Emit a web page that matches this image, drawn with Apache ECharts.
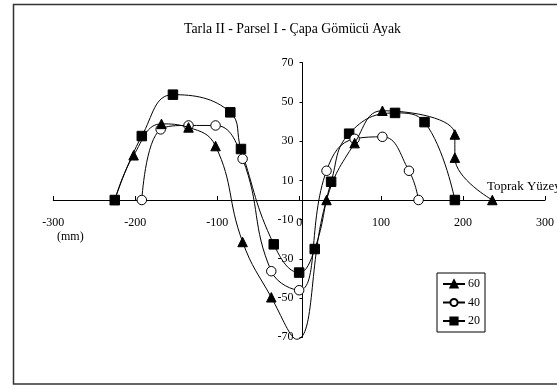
<!DOCTYPE html>
<html>
<head>
<meta charset="utf-8">
<script src="https://cdn.jsdelivr.net/npm/echarts@6/dist/echarts.min.js"></script>
<style>html,body{margin:0;padding:0;background:#fff}#c{width:557px;height:388px}</style>
</head>
<body>
<div id="c"></div>
<script>
const titleText = 'Tarla II - Parsel I - Çapa Gömücü Ayak';
const seriesNames = ['60', '40', '20'];
const xTicks = [-300, -200, -100, 0, 100, 200, 300];
const yTicks = [-70, -50, -30, -10, 10, 30, 50, 70];
const s60 = [[-225, 0], [-202, 22.8], [-168, 38.8], [-135, 37], [-102, 27.5], [-69, -21.4], [-34, -49.6], [-3, -71, 'hidden'], [33.4, 0], [67.7, 29], [101.6, 45.5], [190, 33.4], [190, 21.6], [235.7, 0]];
const s40 = [[-192, 0], [-169, 36], [-135, 38], [-102, 38], [-69, 21], [-34, -36.3], [0, -46], [33.4, 14.9], [67.7, 31.2], [101.6, 32.2], [134, 14.9], [145.7, 0]];
const s20 = [[-225, 0], [-192, 32.6], [-154, 53.7], [-84, 44.7], [-71, 26], [-31, -22.6], [0, -37], [19, -25], [39, 9.3], [61, 33.8], [117, 44.4], [153, 39.7], [190, 0]];
const annotations = ['Toprak Yüzeyi', '(mm)'];

const FONT = 'Liberation Serif';
function toData(arr) {
  return arr.map(p => p[2] === 'hidden' ? { value: [p[0], p[1]], symbol: 'none' } : [p[0], p[1]]);
}
const G = { left: 53.3, right: 5.3, top: 62.7, bottom: 50.7 };
const W = 557, H = 388;
const plotW = W - G.left - G.right, plotH = H - G.top - G.bottom;
const xMin = xTicks[0], xMax = xTicks[xTicks.length - 1];
const yMin = yTicks[0], yMax = yTicks[yTicks.length - 1];
// offsets that put each axis on the other axis's zero
const xAxisOffset = -plotH * (0 - yMin) / (yMax - yMin);
const yAxisOffset = -plotW * (0 - xMin) / (xMax - xMin);

const chart = echarts.init(document.getElementById('c'), null, { renderer: 'canvas' });
const symbols = ['triangle', 'circle', 'rect'];
const datas = [s60, s40, s20];
chart.setOption({
  animation: false,
  textStyle: { fontFamily: FONT, color: '#000' },
  title: {
    text: titleText, left: 179, top: 17,
    textStyle: { fontFamily: FONT, fontSize: 13.8, fontWeight: 'normal', color: '#000' }
  },
  grid: { left: G.left, right: G.right, top: G.top, bottom: G.bottom, containLabel: false },
  xAxis: {
    type: 'value', min: xMin, max: xMax, interval: 100, offset: xAxisOffset,
    splitLine: { show: false },
    axisLine: { onZero: false, lineStyle: { color: '#000', width: 1 } },
    axisTick: { inside: true, length: 4, lineStyle: { color: '#000' } },
    axisLabel: { fontFamily: FONT, fontSize: 12, color: '#000', margin: 17 }
  },
  yAxis: {
    type: 'value', min: yMin, max: yMax, interval: 20, offset: yAxisOffset,
    splitLine: { show: false },
    axisLine: { onZero: false, lineStyle: { color: '#000', width: 1 } },
    axisTick: { length: 3, lineStyle: { color: '#000' } },
    axisLabel: { fontFamily: FONT, fontSize: 12, color: '#000', margin: 9 }
  },
  legend: {
    orient: 'vertical', left: 437, top: 273,
    padding: [5, 5, 5, 5], itemGap: 6.5, itemWidth: 22, itemHeight: 9,
    borderColor: '#000', borderWidth: 1, backgroundColor: '#fff',
    textStyle: { fontFamily: FONT, fontSize: 12, color: '#000', padding: [0, 0, 0, -2] },
    data: seriesNames
  },
  series: seriesNames.map((n, i) => ({
    name: n, type: 'line', smooth: 0.45,
    symbol: symbols[i], symbolSize: 9.5,
    lineStyle: { color: '#000', width: 1 },
    itemStyle: { color: i === 1 ? '#fff' : '#000', borderColor: '#000', borderWidth: 1 },
    data: toData(datas[i]), z: 3 - i, clip: false
  })),
  graphic: [
    { type: 'rect', shape: { x: 13.5, y: 4.5, width: 700, height: 379.5 },
      style: { fill: 'none', stroke: '#333', lineWidth: 1.5 }, silent: true, z: -10 },
    { type: 'text', left: 487, top: 180, style: { text: annotations[0], font: '13px ' + FONT, fill: '#000' } },
    { type: 'text', left: 57, top: 231, style: { text: annotations[1], font: '12px ' + FONT, fill: '#000' } }
  ]
});
</script>
</body>
</html>
